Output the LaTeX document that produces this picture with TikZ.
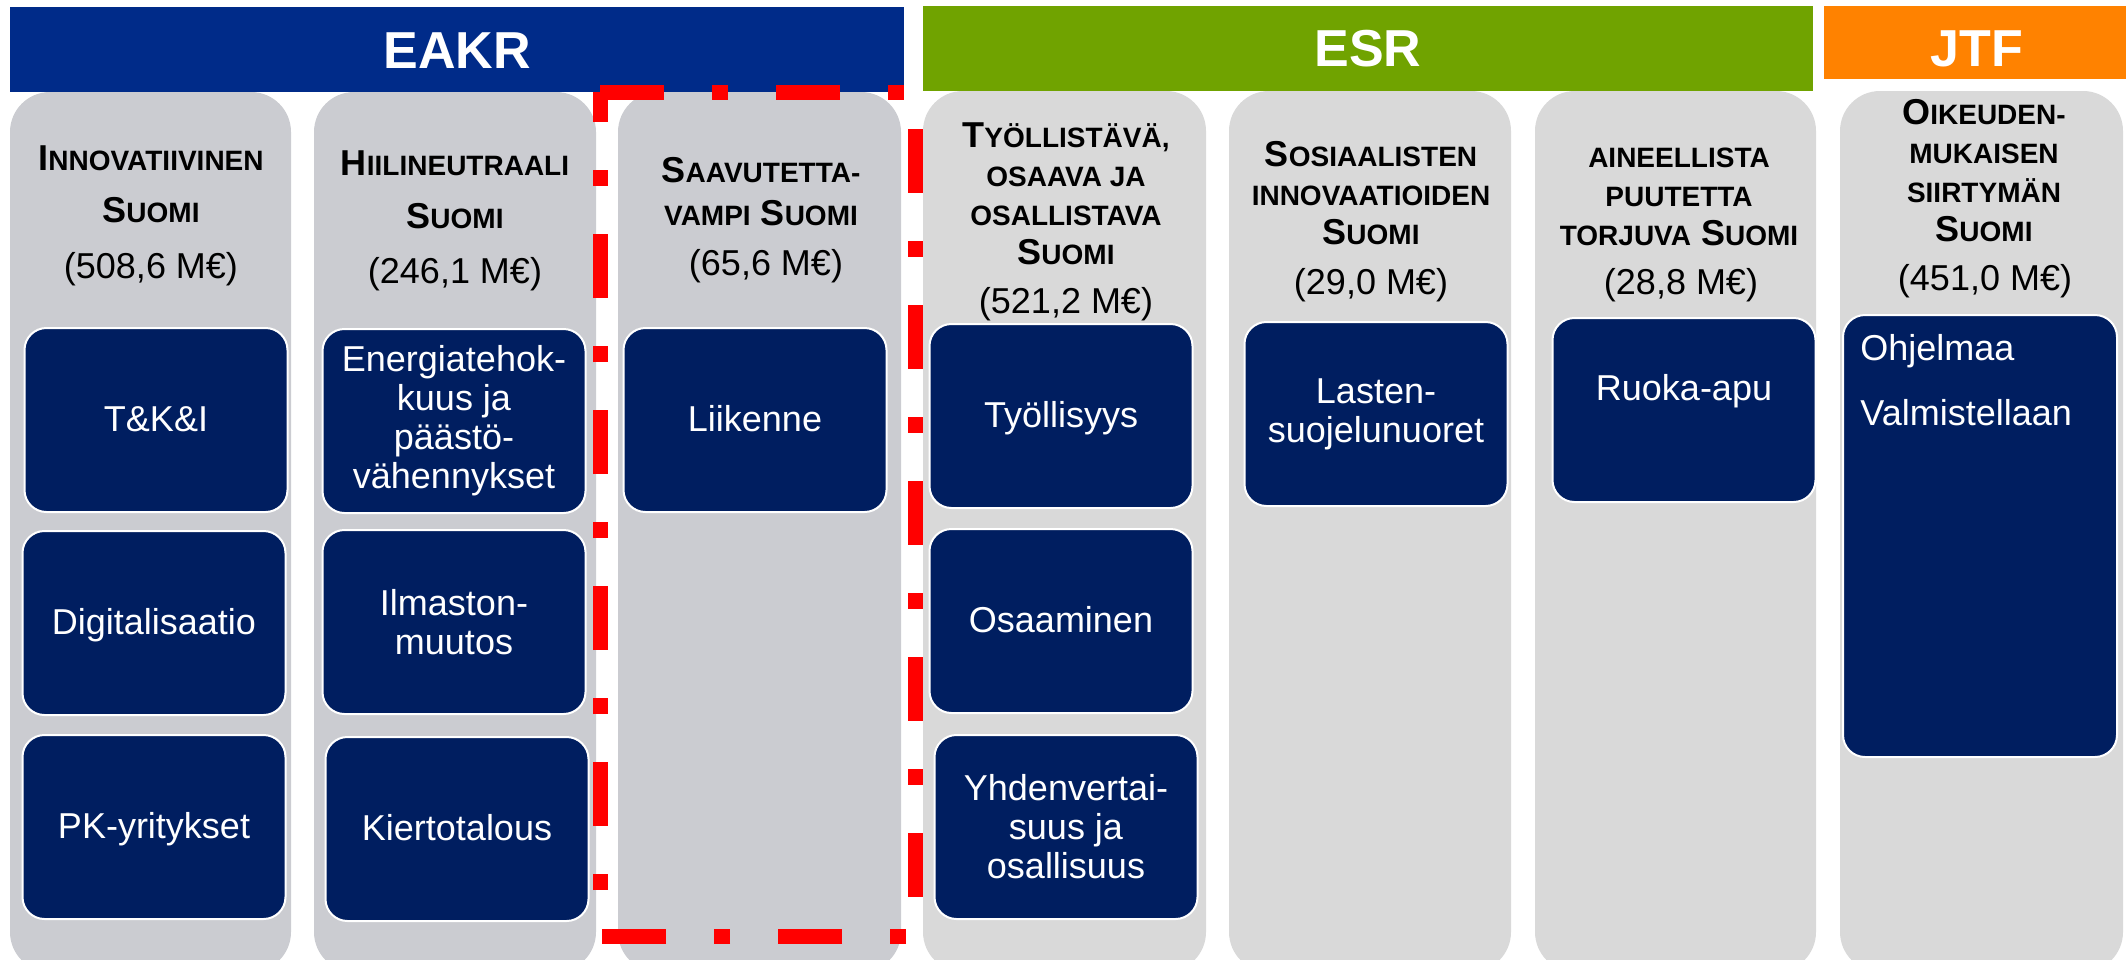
\documentclass[tikz,border=0pt]{standalone}
\usepackage{fontspec}
\setmainfont{Liberation Sans}
\definecolor{eakrblue}{RGB}{0,43,137}
\definecolor{esrgreen}{RGB}{112,163,0}
\definecolor{jtforange}{RGB}{255,130,0}
\definecolor{eakrgray}{RGB}{203,204,209}
\definecolor{esrgray}{RGB}{217,217,217}
\definecolor{navy}{RGB}{0,30,96}
\newcommand{\sk}[1]{{\fontsize{14}{14}\selectfont #1}}
\tikzset{
  fundname/.style={anchor=base, text=white, inner sep=0, font=\bfseries\fontsize{26}{26}\selectfont},
  panel/.style={fill=#1, rounded corners=20pt},
  head/.style={anchor=base, text width=150pt, align=flush center, inner sep=0, font=\bfseries\fontsize{18}{#1}\selectfont},
  head/.default=19.5,
  amount/.style={anchor=base, inner sep=0, font=\fontsize{18}{18}\selectfont},
  goal/.style={draw=white, line width=1pt, fill=navy, rounded corners=11pt, text=white, align=center, inner sep=0,
    minimum width=131.5pt, minimum height=92pt, font=\fontsize{18}{19.5}\selectfont},
  oneline/.style={text height=14pt, text depth=3pt},
  plain/.style={anchor=base west, inner sep=0, text=white, font=\fontsize{18}{18}\selectfont},
  redline/.style={draw=red, line width=7.5pt, dash pattern=on 32pt off 24pt on 8pt off 24pt}
}
\begin{document}
\begin{tikzpicture}[x=0.5pt, y=-0.5pt]
  \useasboundingbox (0,0) rectangle (2126,959);
  \clip (0,0) rectangle (2126,959);
  \fill[eakrblue] (10,7) rectangle (904,92);
  \fill[esrgreen] (923,6) rectangle (1813,91);
  \fill[jtforange] (1824,6) rectangle (2126,79);
  \node[fundname] (eakr) at (457,68) {EAKR};
  \node[fundname] (esr) at (1368,66) {ESR};
  \node[fundname] (jtf) at (1977,66) {JTF};

  \fill[panel=eakrgray] (10,92) rectangle (291,972);
  \fill[panel=eakrgray] (314,92) rectangle (596,972);
  \fill[panel=eakrgray] (618,92) rectangle (901,972);
  \fill[panel=esrgray] (923,91) rectangle (1206,972);
  \fill[panel=esrgray] (1229,91) rectangle (1511,972);
  \fill[panel=esrgray] (1535,91) rectangle (1816,972);
  \fill[panel=esrgray] (1840,91) rectangle (2123,972);

  \node[head=26] (h1) at (151,170) {I\sk{NNOVATIIVINEN}\\S\sk{UOMI}};
  \node[amount] (m1) at (151,278) {(508,6 M€)};
  \node[head=26.5] (h2) at (455,175) {H\sk{IILINEUTRAALI}\\S\sk{UOMI}};
  \node[amount] (m2) at (455,283) {(246,1 M€)};
  \node[head=21.5] (h3) at (761,182) {S\sk{AAVUTETTA-}\\\sk{VAMPI} S\sk{UOMI}};
  \node[amount] (m3) at (766,275) {(65,6 M€)};
  \node[head] (h4) at (1066,147) {T\sk{YÖLLISTÄVÄ,}\\\sk{OSAAVA JA}\\\sk{OSALLISTAVA}\\S\sk{UOMI}};
  \node[amount] (m4) at (1066,313) {(521,2 M€)};
  \node[head] (h5) at (1371,166) {S\sk{OSIAALISTEN}\\\sk{INNOVAATIOIDEN}\\S\sk{UOMI}};
  \node[amount] (m5) at (1371,294) {(29,0 M€)};
  \node[head] (h6) at (1679,167) {\sk{AINEELLISTA}\\\sk{PUUTETTA}\\\sk{TORJUVA} S\sk{UOMI}};
  \node[amount] (m6) at (1681,294) {(28,8 M€)};
  \node[head] (h7) at (1984,124) {O\sk{IKEUDEN-}\\\sk{MUKAISEN}\\\sk{SIIRTYMÄN}\\S\sk{UOMI}};
  \node[amount] (m7) at (1985,290) {(451,0 M€)};

  \node[goal, oneline] (tki) at (156,420) {T\&K\&I};
  \node[goal, oneline] (digi) at (154,623) {Digitalisaatio};
  \node[goal, oneline] (pk) at (154,827) {PK-yritykset};
  \node[goal] (energia) at (454,421) {Energiatehok-\\kuus ja\\päästö-\\vähennykset};
  \node[goal] (ilmasto) at (454,622) {Ilmaston-\\muutos};
  \node[goal, oneline] (kierto) at (457,829) {Kiertotalous};
  \node[goal, oneline] (liikenne) at (755,420) {Liikenne};
  \node[goal, oneline] (tyo) at (1061,416) {Työllisyys};
  \node[goal, oneline] (osaa) at (1061,621) {Osaaminen};
  \node[goal] (yhden) at (1066,827) {Yhdenvertai-\\suus ja\\osallisuus};
  \node[goal] (lasten) at (1376,414) {Lasten-\\suojelunuoret};
  \node[goal, text height=14pt, text depth=24pt] (ruoka) at (1684,410) {Ruoka-apu};
  \node[goal, minimum width=137pt, minimum height=221pt] (ohjbox) at (1980,536) {};
  \node[plain] (ohj) at (1860,360) {Ohjelmaa};
  \node[plain] (valm) at (1860,425) {Valmistellaan};

  \draw[redline] (600,92) -- (915,92) -- (915,936) -- (600,936) -- cycle;
\end{tikzpicture}
\end{document}
